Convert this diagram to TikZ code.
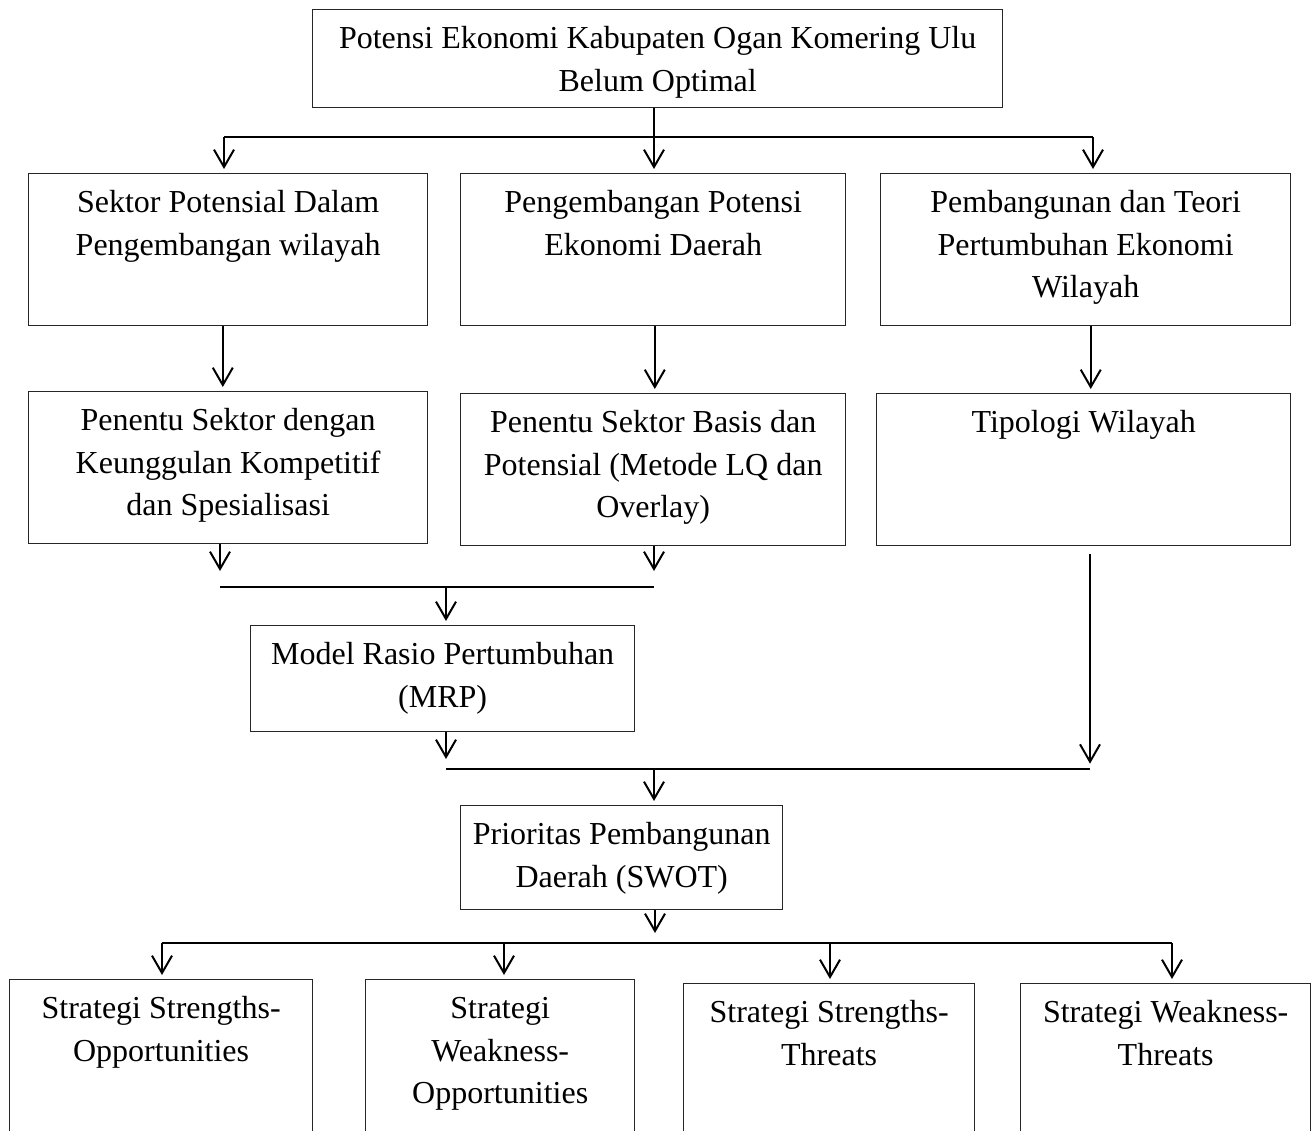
\documentclass[tikz,border=0pt]{standalone}
\usepackage{fontspec}
\setmainfont{Liberation Serif}
\usetikzlibrary{arrows.meta}

\begin{document}
\begin{tikzpicture}[x=0.375pt, y=-0.375pt,
      box/.style={draw=black!85, line width=0.5pt, anchor=north west, inner sep=0pt,
                  align=flush center, text height=14.4pt,
                  font=\fontsize{12pt}{16.1pt}\selectfont},
      arr/.style={-{Straight Barb[length=6.5pt, width=7.5pt]}, line width=0.75pt,
                  shorten >=1.5pt},
      ln/.style={line width=0.75pt}]

    \useasboundingbox (0,0) rectangle (1314,1131);
    \clip (0,0) rectangle (1314,1131);

    \node[box, text width=258.75pt, text depth=22.35pt] (top) at (312,9)
      {Potensi Ekonomi Kabupaten Ogan Komering Ulu\\Belum Optimal};

    \node[box, text width=149.6pt, text depth=42.6pt] (A) at (28,173)
      {Sektor Potensial Dalam\\Pengembangan wilayah};
    \node[box, text width=144.4pt, text depth=42.6pt] (B) at (460,173)
      {Pengembangan Potensi\\Ekonomi Daerah};
    \node[box, text width=153.75pt, text depth=42.6pt] (C) at (880,173)
      {Pembangunan dan Teori\\Pertumbuhan Ekonomi\\Wilayah};

    \node[box, text width=149.6pt, text depth=42.6pt] (D) at (28,391)
      {Penentu Sektor dengan\\Keunggulan Kompetitif\\dan Spesialisasi};
    \node[box, text width=144.4pt, text depth=42.6pt] (E) at (460,393)
      {Penentu Sektor Basis dan\\Potensial (Metode LQ dan\\Overlay)};
    \node[box, text width=155.25pt, text depth=42.6pt] (F) at (876,393)
      {Tipologi Wilayah};

    \node[box, text width=144pt, text depth=25.35pt] (G) at (250,625)
      {Model Rasio Pertumbuhan\\(MRP)};
    \node[box, text width=120.75pt, text depth=24.6pt] (H) at (460,805)
      {Prioritas Pembangunan\\Daerah (SWOT)};

    \node[box, text width=113.6pt, text depth=53.5pt] (I) at (9,979)
      {Strategi Strengths-\\Opportunities};
    \node[box, text width=100.9pt, text depth=53.5pt] (J) at (365,979)
      {Strategi\\Weakness-\\Opportunities};
    \node[box, text width=109.1pt, text depth=52pt] (K) at (683,983)
      {Strategi Strengths-\\Threats};
    \node[box, text width=108.75pt, text depth=52pt] (L) at (1020,983)
      {Strategi Weakness-\\Threats};

    % branch below the top box
    \coordinate (j1) at (654,137);
    \coordinate (j1l) at (224,137);
    \coordinate (j1r) at (1093,137);
    \draw[ln] (j1 |- top.south) -- (j1);
    \draw[ln] (j1l) -- (j1r);
    \draw[arr] (j1l) -- (j1l |- A.north);
    \draw[arr] (j1) -- (j1 |- B.north);
    \draw[arr] (j1r) -- (j1r |- C.north);

    \draw[arr] ([xshift=-2pt]A.south) -- ([xshift=-2pt]D.north);
    \draw[arr] ([xshift=0.6pt]B.south) -- ([xshift=0.6pt]E.north);
    \draw[arr] ([xshift=1.9pt]C.south) -- ([xshift=1.9pt]C.south |- F.north);

    % join towards MRP
    \coordinate (j2) at (446,587);
    \coordinate (j2l) at (220,587);
    \coordinate (j2r) at (654,587);
    \draw[arr] (j2l |- D.south) -- ([yshift=4.5pt]j2l);
    \draw[arr] (j2r |- E.south) -- ([yshift=4.5pt]j2r);
    \draw[ln] (j2l) -- (j2r);
    \draw[arr] (j2) -- (j2 |- G.north);

    % join towards SWOT
    \coordinate (j3) at (654,769);
    \coordinate (j3l) at (446,769);
    \coordinate (j3r) at (1090,769);
    \draw[arr] (j3l |- G.south) -- ([yshift=2.25pt]j3l);
    \draw[arr] ([yshift=-3pt]j3r |- F.south) -- ([yshift=0.5pt]j3r);
    \draw[ln] (j3l) -- (j3r);
    \draw[arr] (j3) -- (j3 |- H.north);

    % four strategies
    \coordinate (j4) at (655,943);
    \draw[arr] (j4 |- H.south) -- ([yshift=2.25pt]j4);
    \draw[ln] (162,943) coordinate (j4l) -- (1172,943) coordinate (j4r);
    \foreach \n/\x in {I/162, J/504, K/830, L/1172} {
      \coordinate (s\n) at (\x,943);
      \draw[arr] (s\n) -- (s\n |- \n.north);
    }
\end{tikzpicture}
\end{document}
